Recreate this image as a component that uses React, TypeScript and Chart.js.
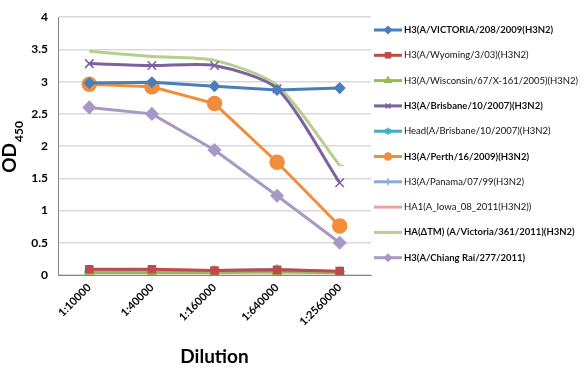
import React, { useEffect, useRef } from "react";
import { Chart, registerables } from "chart.js";
import { drawPoint } from "chart.js/helpers";

Chart.register(...registerables);

const categories = ["1:10000", "1:40000", "1:160000", "1:640000", "1:2560000"];
const yTicks = [0, 0.5, 1, 1.5, 2, 2.5, 3, 3.5, 4];

const victoria208 = [2.98, 2.99, 2.93, 2.87, 2.9];
const wyoming = [0.09, 0.09, 0.07, 0.08, 0.06];
const wisconsin = [0.04, 0.04, 0.04, 0.05, 0.04];
const brisbane = [3.28, 3.25, 3.25, 2.89, 1.43];
const headBrisbane = [0.04, 0.05, 0.05, 0.05, 0.05];
const perth = [2.96, 2.92, 2.66, 1.75, 0.76];
const panama = [0.06, 0.06, 0.07, 0.09, 0.05];
const iowa = [0.05, 0.05, 0.05, 0.05, 0.04];
const haTm = [3.47, 3.39, 3.33, 2.94, 1.7];
const chiangRai = [2.6, 2.5, 1.94, 1.23, 0.5];

const seriesNames = [
  "H3(A/VICTORIA/208/2009(H3N2)",
  "H3(A/Wyoming/3/03)(H3N2)",
  "H3(A/Wisconsin/67/X-161/2005)(H3N2)",
  "H3(A/Brisbane/10/2007)(H3N2)",
  "Head(A/Brisbane/10/2007)(H3N2)",
  "H3(A/Perth/16/2009)(H3N2)",
  "H3(A/Panama/07/99(H3N2)",
  "HA1(A_Iowa_08_2011(H3N2))",
  "HA(\u0394TM) (A/Victoria/361/2011)(H3N2)",
  "H3(A/Chiang Rai/277/2011)",
];
const seriesData = [victoria208, wyoming, wisconsin, brisbane, headBrisbane, perth, panama, iowa, haTm, chiangRai];
const seriesColors = ["#4a7ebb", "#be4b48", "#98b954", "#7d60a0", "#46aac5", "#f28d3c", "#8ca8dc", "#e6a5a3", "#b5d08e", "#a898c6"];
const seriesStyles = ["rectRot", "rect", "triangle", "crossRot", "star", "circle", "cross", false, "dash", "rectRot"];
const seriesRadius = [5, 5, 5, 6, 5, 7, 5, 0, 4, 6];
const seriesBold = [true, false, false, true, false, true, false, false, true, true];
const seriesTension = [0, 0, 0, 0.25, 0, 0, 0, 0, 0.25, 0];

const FONT = "Lato, 'Open Sans', sans-serif";

const overlayPlugin = {
  id: "overlay",
  afterDraw(c: any) {
    const cx = c.ctx;
    const step = 25.3;
    cx.save();
    c.data.datasets.forEach((ds: any, i: number) => {
      const y = 30 + i * step;
      cx.strokeStyle = ds.borderColor;
      cx.lineWidth = 3;
      cx.beginPath();
      cx.moveTo(374, y);
      cx.lineTo(402, y);
      cx.stroke();
      if (ds.pointStyle) {
        cx.fillStyle = ds.borderColor;
        cx.strokeStyle = ds.borderColor;
        cx.lineWidth = 1.5;
        drawPoint(cx, { pointStyle: ds.pointStyle, radius: 3.5, rotation: 0, borderWidth: 1.5 } as any, 388, y);
      }
      cx.fillStyle = "#111";
      cx.font = (seriesBold[i] ? "bold " : "") + "9.5px " + FONT;
      cx.textBaseline = "middle";
      cx.textAlign = "left";
      cx.fillText(ds.label, 404, y);
    });
    cx.restore();
    // Y title with subscript
    cx.save();
    cx.translate(9, 147);
    cx.rotate(-Math.PI / 2);
    cx.fillStyle = "#000";
    cx.textBaseline = "alphabetic";
    cx.textAlign = "left";
    cx.font = "bold 19px " + FONT;
    const w1 = cx.measureText("OD").width;
    cx.font = "bold 12px " + FONT;
    const w2 = cx.measureText("450").width;
    const total = w1 + w2 + 1;
    cx.font = "bold 19px " + FONT;
    cx.fillText("OD", -total / 2, 7);
    cx.font = "bold 12px " + FONT;
    cx.fillText("450", -total / 2 + w1 + 1, 14);
    cx.restore();
  },
};

export default function App() {
  const ref = useRef<HTMLCanvasElement>(null);
  useEffect(() => {
    document.body.style.margin = "0";
    const ctx = ref.current!.getContext("2d")!;
    const chart = new Chart(ctx, {
      type: "line",
      data: {
        labels: categories,
        datasets: seriesData.map((d, i) => ({
          label: seriesNames[i],
          data: d,
          borderColor: seriesColors[i],
          backgroundColor: seriesColors[i],
          pointBackgroundColor: seriesColors[i],
          pointBorderColor: seriesColors[i],
          pointStyle: seriesStyles[i] as any,
          pointRadius: seriesRadius[i],
          pointBorderWidth: 1.5,
          borderWidth: 3,
          tension: seriesTension[i],
          fill: false,
        })),
      },
      options: {
        animation: false,
        responsive: false,
        maintainAspectRatio: false,
        layout: { padding: { top: 8, right: 213, left: 0, bottom: 3 } },
        plugins: { legend: { display: false }, tooltip: { enabled: false } },
        scales: {
          x: {
            offset: true,
            grid: { display: false, drawTicks: false },
            border: { color: "#868686", width: 1 },
            ticks: {
              color: "#000",
              font: { family: FONT, size: 11, weight: "bold" },
              maxRotation: 45,
              minRotation: 45,
              padding: 6,
            },
            title: {
              display: true,
              text: "Dilution",
              color: "#000",
              font: { family: FONT, size: 19, weight: "bold" },
              padding: { top: 4, bottom: 0 },
            },
            afterFit: (s: any) => {
              s.height = 93;
            },
          },
          y: {
            min: 0,
            max: 4,
            afterBuildTicks: (s: any) => {
              s.ticks = yTicks.map((v) => ({ value: v }));
            },
            grid: { color: "#d9d9d9", drawTicks: false, lineWidth: 1.5 },
            border: { color: "#868686", width: 1 },
            ticks: {
              color: "#000",
              font: { family: FONT, size: 12, weight: "bold" },
              padding: 10,
              callback: (v: any) => String(Number(v)),
            },
            afterFit: (s: any) => {
              s.width = 58;
            },
          },
        },
      },
      plugins: [overlayPlugin],
    });
    return () => chart.destroy();
  }, []);
  return (
    <div style={{ position: "absolute", left: 0, top: 0, width: 584, height: 371, background: "#fff" }}>
      <canvas ref={ref} width={584} height={371} style={{ width: 584, height: 371 }} />
    </div>
  );
}
